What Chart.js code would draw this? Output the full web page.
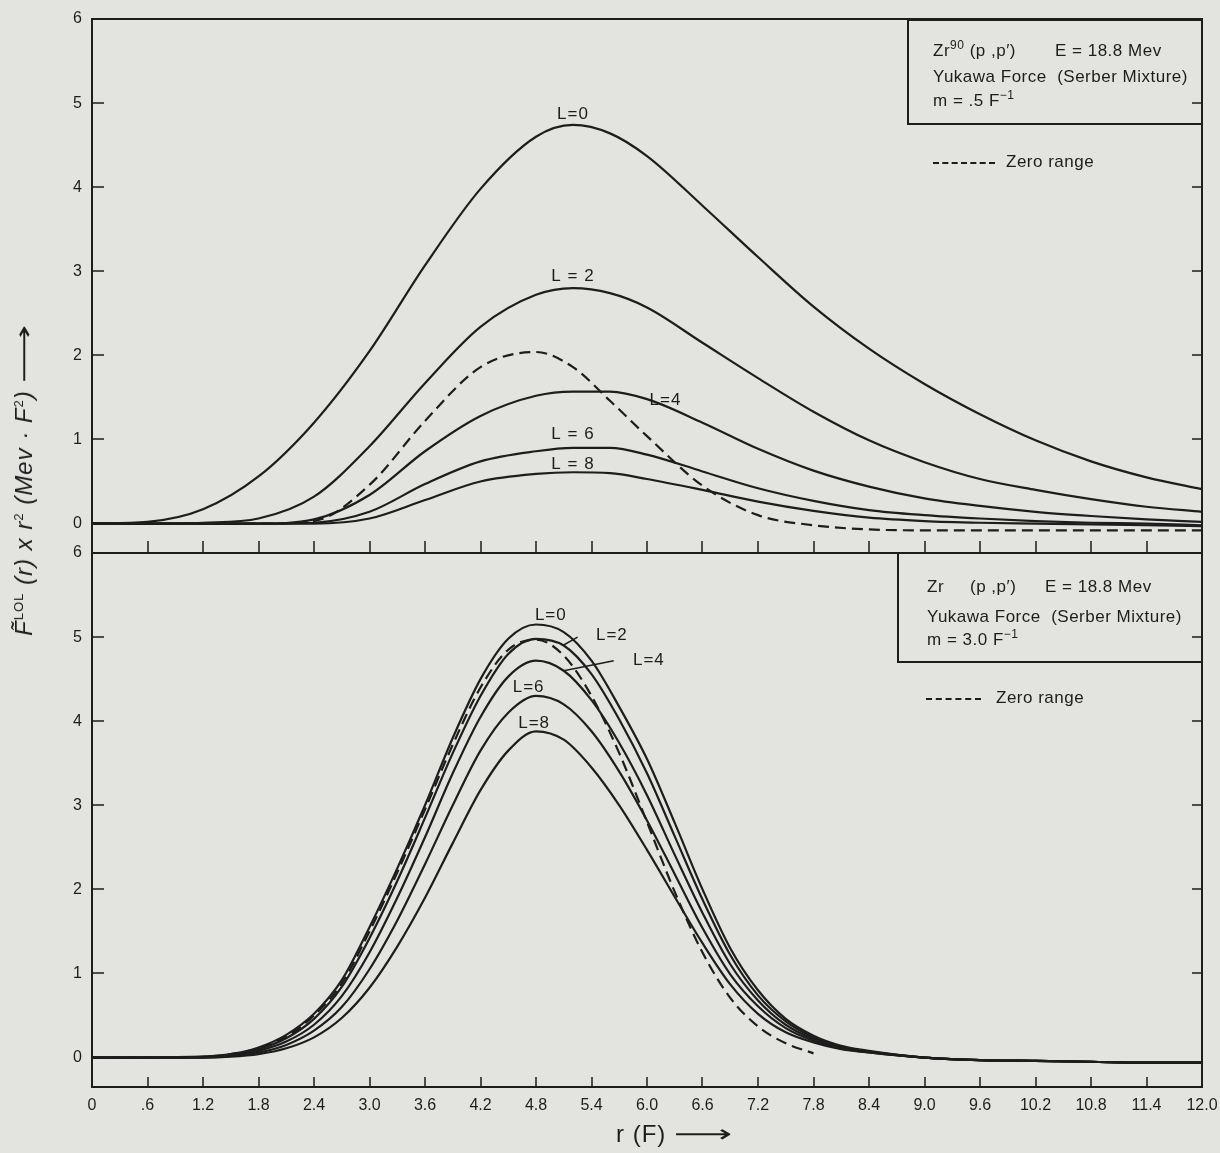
<!DOCTYPE html>
<html>
<head>
<meta charset="utf-8">
<script src="https://cdn.jsdelivr.net/npm/chart.js@4.4.1/dist/chart.umd.min.js"></script>
<style>
  html, body { margin: 0; padding: 0; background: #e3e3e0; }
  #page { position: relative; width: 1220px; height: 1153px; overflow: hidden;
          font-family: "Liberation Sans", Arial, sans-serif; color: #1d1d1d; }
  canvas { position: absolute; left: 0; }
  #cvTop { top: 0; }
  #cvBot { top: 540px; }
  .box { position: absolute; border: 2px solid #1d1d1d; box-sizing: border-box; }
  .txt { position: absolute; font-size: 17px; letter-spacing: 0.5px; white-space: pre; line-height: 20px; }
  .txt sup { font-size: 12px; line-height: 0; }
  .dash { position: absolute; height: 0; border-top: 2px dashed #1d1d1d; }
  #ytitle { position: absolute; left: 24px; top: 480px; transform: translate(-50%, -50%) rotate(-90deg);
            white-space: nowrap; font-size: 24px; letter-spacing: 1px; font-style: italic; }
  #ytitle sup { font-size: 13px; font-style: normal; }
  #xtitle { position: absolute; left: 616px; top: 1120px; font-size: 24px; letter-spacing: 1px; white-space: nowrap; }
  .arrow { display: inline-block; font-family: "DejaVu Sans", sans-serif; font-style: normal;
           transform: scaleX(1.7); transform-origin: left center; }
</style>
</head>
<body>
<div id="page">
  <canvas id="cvTop" width="1220" height="560"></canvas>
  <canvas id="cvBot" width="1220" height="613"></canvas>

  <div class="box" style="left:907px; top:19px; width:296px; height:106px;"></div>
  <div class="txt" style="left:933px; top:41px;">Zr<sup>90</sup> (p ,p′)</div>
  <div class="txt" style="left:1055px; top:41px;">E = 18.8 Mev</div>
  <div class="txt" style="left:933px; top:67px;">Yukawa Force  (Serber Mixture)</div>
  <div class="txt" style="left:933px; top:91px;">m = .5 F<sup>−1</sup></div>
  <div class="dash" style="left:933px; top:162px; width:62px;"></div>
  <div class="txt" style="left:1006px; top:152px;">Zero range</div>

  <div class="box" style="left:897px; top:552px; width:306px; height:111px;"></div>
  <div class="txt" style="left:927px; top:577px;">Zr</div>
  <div class="txt" style="left:970px; top:577px;">(p ,p′)</div>
  <div class="txt" style="left:1045px; top:577px;">E = 18.8 Mev</div>
  <div class="txt" style="left:927px; top:607px;">Yukawa Force  (Serber Mixture)</div>
  <div class="txt" style="left:927px; top:630px;">m = 3.0 F<sup>−1</sup></div>
  <div class="dash" style="left:926px; top:698px; width:55px;"></div>
  <div class="txt" style="left:996px; top:688px;">Zero range</div>

  <div id="ytitle">F&#771;<sup>LOL</sup> (r) x r<sup>2</sup> (Mev · F<sup>2</sup>) <span class="arrow">⟶</span>&nbsp;&nbsp;&nbsp;</div>
  <div id="xtitle">r (F) <span class="arrow">⟶</span></div>
</div>

<script>
// ---- data ----
var xTickValues = [0, 0.6, 1.2, 1.8, 2.4, 3.0, 3.6, 4.2, 4.8, 5.4, 6.0, 6.6, 7.2, 7.8, 8.4, 9.0, 9.6, 10.2, 10.8, 11.4, 12.0];
var xTickLabels = ['0', '.6', '1.2', '1.8', '2.4', '3.0', '3.6', '4.2', '4.8', '5.4', '6.0', '6.6', '7.2', '7.8', '8.4', '9.0', '9.6', '10.2', '10.8', '11.4', '12.0'];
var yTickValues = [0, 1, 2, 3, 4, 5, 6];
var yTickLabels = ['0', '1', '2', '3', '4', '5', '6'];

// upper panel, m = .5 F^-1
var rTop     = [0, 0.6, 1.2, 1.8, 2.4, 3.0, 3.6, 4.2, 4.8, 5.2, 5.6, 6.0, 6.6, 7.2, 7.8, 8.4, 9.0, 9.6, 10.2, 10.8, 11.4, 12.0];
var topL0    = [0, 0.02, 0.17, 0.56, 1.2, 2.05, 3.07, 3.98, 4.6, 4.74, 4.64, 4.37, 3.78, 3.17, 2.58, 2.08, 1.66, 1.3, 0.99, 0.74, 0.55, 0.41];
var topL2    = [0, 0, 0.01, 0.06, 0.32, 0.92, 1.67, 2.34, 2.72, 2.8, 2.74, 2.57, 2.15, 1.73, 1.33, 0.99, 0.73, 0.53, 0.4, 0.29, 0.2, 0.14];
var topL4    = [0, 0, 0, 0, 0.05, 0.34, 0.86, 1.28, 1.52, 1.57, 1.57, 1.48, 1.2, 0.89, 0.63, 0.44, 0.3, 0.21, 0.14, 0.09, 0.05, 0.02];
var topL6    = [0, 0, 0, 0, 0.01, 0.14, 0.47, 0.74, 0.86, 0.9, 0.9, 0.82, 0.62, 0.42, 0.27, 0.16, 0.1, 0.06, 0.03, 0.01, 0, -0.02];
var topL8    = [0, 0, 0, 0, 0, 0.06, 0.28, 0.5, 0.59, 0.61, 0.6, 0.53, 0.4, 0.26, 0.15, 0.07, 0.03, 0.01, 0, -0.01, -0.02, -0.03];
var topZero  = [0, 0, 0, 0, 0.03, 0.46, 1.22, 1.86, 2.04, 1.86, 1.46, 1.04, 0.45, 0.1, -0.02, -0.07, -0.08, -0.08, -0.08, -0.08, -0.08, -0.08];

// lower panel, m = 3.0 F^-1
var rBot     = [0, 0.6, 1.2, 1.5, 1.8, 2.1, 2.4, 2.7, 3.0, 3.3, 3.6, 3.9, 4.2, 4.5, 4.8, 5.1, 5.4, 5.7, 6.0, 6.3, 6.6, 6.9, 7.2, 7.5, 7.8, 8.1, 8.4, 9.0, 9.6, 10.2, 10.8, 11.4, 12.0];
var botL0    = [0, 0, 0.01, 0.04, 0.12, 0.27, 0.52, 0.92, 1.55, 2.25, 3.0, 3.8, 4.5, 4.98, 5.15, 5.06, 4.72, 4.17, 3.55, 2.79, 2.0, 1.3, 0.8, 0.46, 0.26, 0.14, 0.08, 0.0, -0.03, -0.04, -0.05, -0.06, -0.06];
var botL2    = [0, 0, 0.01, 0.03, 0.1, 0.23, 0.46, 0.84, 1.42, 2.1, 2.85, 3.62, 4.3, 4.8, 4.98, 4.9, 4.56, 4.02, 3.38, 2.63, 1.88, 1.22, 0.74, 0.43, 0.24, 0.13, 0.07, 0.0, -0.03, -0.04, -0.05, -0.06, -0.06];
var botL4    = [0, 0, 0.01, 0.02, 0.08, 0.19, 0.39, 0.73, 1.25, 1.9, 2.62, 3.38, 4.05, 4.53, 4.72, 4.6, 4.25, 3.74, 3.12, 2.41, 1.72, 1.11, 0.68, 0.39, 0.22, 0.12, 0.07, 0.0, -0.03, -0.04, -0.05, -0.06, -0.06];
var botL6    = [0, 0, 0, 0.02, 0.06, 0.15, 0.32, 0.6, 1.05, 1.63, 2.3, 3.0, 3.65, 4.1, 4.3, 4.2, 3.88, 3.4, 2.82, 2.18, 1.54, 0.99, 0.61, 0.35, 0.2, 0.11, 0.06, 0.0, -0.03, -0.04, -0.05, -0.06, -0.06];
var botL8    = [0, 0, 0, 0.01, 0.04, 0.11, 0.24, 0.47, 0.83, 1.32, 1.9, 2.55, 3.18, 3.65, 3.88, 3.78, 3.45, 3.0, 2.47, 1.91, 1.36, 0.87, 0.52, 0.3, 0.18, 0.1, 0.06, 0.0, -0.03, -0.04, -0.05, -0.06, -0.06];
var botZero  = [0, 0, 0.01, 0.04, 0.11, 0.25, 0.5, 0.88, 1.5, 2.2, 2.95, 3.72, 4.4, 4.85, 4.97, 4.78, 4.3, 3.62, 2.8, 1.97, 1.25, 0.71, 0.37, 0.17, 0.05, null, null, null, null, null, null, null, null];

// curve labels (data units) and leader lines
var topNotes = [
  { text: 'L=0', x: 5.2, y: 4.87 }, { text: 'L = 2', x: 5.2, y: 2.94 }, { text: 'L=4', x: 6.2, y: 1.47 },
  { text: 'L = 6', x: 5.2, y: 1.06 }, { text: 'L = 8', x: 5.2, y: 0.70 }
];
var botNotes = [
  { text: 'L=0', x: 4.96, y: 5.26 }, { text: 'L=2', x: 5.62, y: 5.02 }, { text: 'L=4', x: 6.02, y: 4.72 },
  { text: 'L=6', x: 4.72, y: 4.40 }, { text: 'L=8', x: 4.78, y: 3.97 }
];
var botLeaders = [
  { x1: 5.25, y1: 5.0, x2: 5.09, y2: 4.9 },
  { x1: 5.64, y1: 4.72, x2: 5.1, y2: 4.6 }
];

var ink = '#1d1d1d';

function pts(xs, ys) {
  var out = [];
  xs.forEach(function (x, i) { if (ys[i] !== null) out.push({ x: x, y: ys[i] }); });
  return out;
}

function line(xs, ys, dashed) {
  return {
    data: pts(xs, ys),
    borderColor: ink,
    borderWidth: 2.2,
    borderDash: dashed ? [11, 6] : [],
    pointRadius: 0,
    fill: false,
    cubicInterpolationMode: 'monotone'
  };
}

// frame, inward tick marks and curve labels, all placed through the chart's scales
var framePlugin = {
  id: 'frame',
  afterDraw: function (chart, args, o) {
    var ctx = chart.ctx, a = chart.chartArea, xs = chart.scales.x, ys = chart.scales.y;
    ctx.save();
    ctx.strokeStyle = ink;
    ctx.lineWidth = 2;
    ctx.strokeRect(a.left, a.top, a.right - a.left, a.bottom - a.top);
    ctx.beginPath();
    xTickValues.forEach(function (v) {
      if (v <= 0 || v >= 12) return;
      var px = Math.round(xs.getPixelForValue(v));
      ctx.moveTo(px, a.bottom); ctx.lineTo(px, a.bottom - o.xTick);
    });
    yTickValues.forEach(function (v) {
      if (v <= 0 || v >= 6) return;
      var py = Math.round(ys.getPixelForValue(v));
      ctx.moveTo(a.left, py); ctx.lineTo(a.left + 12, py);
      ctx.moveTo(a.right, py); ctx.lineTo(a.right - 10, py);
    });
    (o.leaders || []).forEach(function (l) {
      ctx.moveTo(xs.getPixelForValue(l.x1), ys.getPixelForValue(l.y1));
      ctx.lineTo(xs.getPixelForValue(l.x2), ys.getPixelForValue(l.y2));
    });
    ctx.lineWidth = 1.5;
    ctx.stroke();
    ctx.fillStyle = ink;
    ctx.font = '17px "Liberation Sans", Arial, sans-serif';
    if ('letterSpacing' in ctx) ctx.letterSpacing = '1px';
    ctx.textAlign = 'center';
    ctx.textBaseline = 'middle';
    (o.notes || []).forEach(function (n) {
      ctx.fillText(n.text, xs.getPixelForValue(n.x), ys.getPixelForValue(n.y));
    });
    ctx.restore();
  }
};

function makeChart(id, datasets, cfg) {
  return new Chart(document.getElementById(id), {
    type: 'line',
    data: { datasets: datasets },
    plugins: [framePlugin],
    options: {
      responsive: false,
      animation: false,
      events: [],
      layout: { padding: { top: cfg.padTop, right: 18, left: 0, bottom: 0 } },
      plugins: {
        legend: { display: false },
        tooltip: { enabled: false },
        frame: { xTick: cfg.xTick, notes: cfg.notes, leaders: cfg.leaders }
      },
      scales: {
        x: {
          type: 'linear', min: 0, max: 12,
          afterBuildTicks: function (s) { s.ticks = xTickValues.map(function (v) { return { value: v }; }); },
          afterFit: function (s) { s.height = cfg.xHeight; s.paddingLeft = 0; s.paddingRight = 0; },
          grid: { display: false, drawTicks: false },
          border: { display: false },
          ticks: {
            display: cfg.xLabels, padding: 9, color: ink, maxRotation: 0, autoSkip: false,
            font: { family: '"Liberation Sans", Arial, sans-serif', size: 16 },
            callback: function (v, i) { return xTickLabels[i]; }
          }
        },
        y: {
          min: -0.35, max: 6,
          afterBuildTicks: function (s) { s.ticks = yTickValues.map(function (v) { return { value: v }; }); },
          afterFit: function (s) { s.width = 92; s.paddingTop = 0; s.paddingBottom = 0; },
          grid: { display: false, drawTicks: false },
          border: { display: false },
          ticks: {
            padding: 10, color: ink, autoSkip: false,
            font: { family: '"Liberation Sans", Arial, sans-serif', size: 16 },
            callback: function (v, i) { return yTickLabels[i]; }
          }
        }
      }
    }
  });
}

makeChart('cvTop', [
  line(rTop, topL0), line(rTop, topL2), line(rTop, topL4),
  line(rTop, topL6), line(rTop, topL8), line(rTop, topZero, true)
], { padTop: 19, xHeight: 7, xLabels: false, xTick: 12, notes: topNotes });

makeChart('cvBot', [
  line(rBot, botL0), line(rBot, botL2), line(rBot, botL4),
  line(rBot, botL6), line(rBot, botL8), line(rBot, botZero, true)
], { padTop: 13, xHeight: 66, xLabels: true, xTick: 10, notes: botNotes, leaders: botLeaders });
</script>
</body>
</html>
